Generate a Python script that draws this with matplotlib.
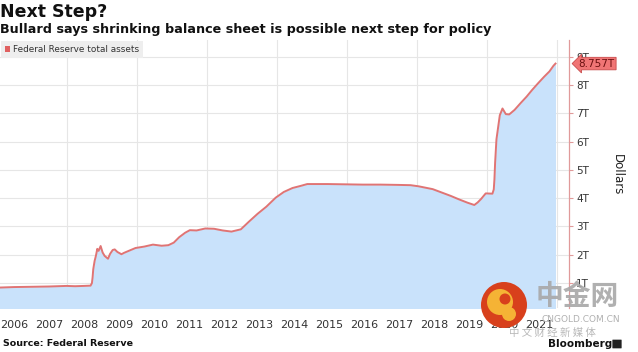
import matplotlib
matplotlib.use("Agg")
import matplotlib.pyplot as plt
import matplotlib.dates as mdates
from matplotlib.patches import Patch, Ellipse, FancyBboxPatch
import pandas as pd
import datetime as dt

plt.rcParams['font.family'] = ['DejaVu Sans', 'Noto Sans CJK SC']

dates = ["2006-01-04", "2006-06-28", "2007-01-03", "2007-06-27", "2007-12-26",
         "2008-03-26", "2008-06-25", "2008-09-03", "2008-09-17", "2008-09-24",
         "2008-10-01", "2008-10-15", "2008-10-29", "2008-11-12", "2008-11-26",
         "2008-12-17", "2009-01-07", "2009-01-28", "2009-03-04", "2009-03-25",
         "2009-04-22", "2009-05-13", "2009-06-10", "2009-07-22", "2009-08-19",
         "2009-10-07", "2009-12-16", "2010-03-17", "2010-06-16", "2010-09-15",
         "2010-11-24", "2011-01-19", "2011-03-16", "2011-05-18", "2011-07-06",
         "2011-09-14", "2011-12-14", "2012-03-14", "2012-06-13", "2012-09-12",
         "2012-12-19", "2013-03-13", "2013-06-12", "2013-09-11", "2013-12-18",
         "2014-03-12", "2014-06-11", "2014-09-10", "2014-11-12", "2015-06-10",
         "2015-12-16", "2016-06-15", "2016-12-14", "2017-06-14", "2017-10-25",
         "2018-01-17", "2018-06-13", "2018-12-19", "2019-03-13", "2019-06-12",
         "2019-08-21", "2019-09-25", "2019-10-30", "2019-12-18", "2020-02-26",
         "2020-03-11", "2020-03-18", "2020-03-25", "2020-04-08", "2020-05-13",
         "2020-06-10", "2020-07-15", "2020-08-19", "2020-10-14", "2020-12-16",
         "2021-02-17", "2021-04-14", "2021-06-16", "2021-08-18", "2021-10-13",
         "2021-11-24", "2021-12-15"]
assets = [0.84, 0.86, 0.87, 0.88, 0.90,
          0.89, 0.90, 0.91, 1.00, 1.20,
          1.49, 1.78, 1.97, 2.21, 2.14,
          2.31, 2.08, 1.96, 1.86, 2.03,
          2.17, 2.19, 2.10, 2.02, 2.07,
          2.14, 2.24, 2.29, 2.36, 2.32,
          2.34, 2.43, 2.62, 2.78, 2.87,
          2.86, 2.93, 2.92, 2.86, 2.82,
          2.90, 3.17, 3.45, 3.70, 4.02,
          4.22, 4.36, 4.44, 4.50, 4.50,
          4.49, 4.48, 4.48, 4.47, 4.46,
          4.42, 4.32, 4.08, 3.96, 3.84,
          3.76, 3.85, 3.97, 4.17, 4.16,
          4.31, 4.67, 5.25, 6.08, 6.93,
          7.17, 6.97, 6.96, 7.12, 7.36,
          7.59, 7.82, 8.06, 8.29, 8.48,
          8.68, 8.757]
year_labels = [str(y) for y in range(2006, 2022)]
ytick_values = [1, 2, 3, 4, 5, 6, 7, 8, 9]
ytick_labels = ["1T", "2T", "3T", "4T", "5T", "6T", "7T", "8T", "9T"]
last_label = "8.757T"

x = pd.to_datetime(dates)

W, H = 638, 352
fig = plt.figure(figsize=(W / 100, H / 100), dpi=100)
ax = fig.add_axes([0, 1 - 308 / H, 569 / W, (308 - 40) / H])

line_c = '#e07474'
fill_c = '#c9e2fb'
ax.fill_between(x, 0, assets, color=fill_c, lw=0, zorder=1)
ax.plot(x, assets, color=line_c, lw=1.4, zorder=3)

ax.set_xlim(dt.date(2006, 2, 1), dt.date(2022, 5, 5))
ax.set_ylim(0.12, 9.59)

# gridlines at even years, labels at mid-year
ax.xaxis.set_major_locator(mdates.YearLocator(2))
ax.xaxis.set_major_formatter(plt.NullFormatter())
mids = [mdates.date2num(dt.date(int(y), 7, 2)) for y in year_labels]
ax.set_xticks(mids, minor=True)
ax.set_xticklabels(year_labels, minor=True)
ax.tick_params(axis='x', which='both', length=0)
ax.tick_params(axis='x', which='minor', labelsize=8, colors='#333333', pad=9)

ax.yaxis.tick_right()
ax.set_yticks(ytick_values)
ax.set_yticklabels(ytick_labels)
ax.tick_params(axis='y', length=3, width=0.8, color='#e09a9a', labelsize=7.5,
               labelcolor='#333333', pad=2)
ax.grid(True, which='major', color='#e6e6e6', lw=0.8, zorder=0)
ax.set_axisbelow(True)

for s in ['top', 'left', 'bottom']:
    ax.spines[s].set_visible(False)
ax.spines['right'].set_color('#e09a9a')
ax.spines['right'].set_linewidth(0.9)

# last value label
ax.annotate(last_label, xy=(1.0, assets[-1]), xycoords=('axes fraction', 'data'),
            xytext=(7, 0), textcoords='offset points', ha='left', va='center',
            fontsize=7.5, color='#6b1010', annotation_clip=False,
            bbox=dict(boxstyle='larrow,pad=0.12', fc='#f07575', ec='#c94a4a', lw=0.6),
            zorder=10)

# legend
leg = ax.legend(handles=[Patch(facecolor='#e06060', edgecolor='none',
                               label='Federal Reserve total assets')],
                loc='upper left', bbox_to_anchor=(0.0, 1.0), fontsize=6.4,
                frameon=True, facecolor='#eeeeee', edgecolor='none', framealpha=1,
                handlelength=0.6, handleheight=0.6, handletextpad=0.3,
                borderpad=0.45, borderaxespad=0.1, fancybox=False)
for t in leg.get_texts():
    t.set_color('#333333')

# "Dollars" axis title
fig.text(617 / W, 1 - 175 / H, 'Dollars', rotation=270, ha='center', va='center',
         fontsize=8.5, color='#222222')

# titles
fig.text(0 / W, 1 - 12 / H, 'Next Step?', fontsize=12.5, fontweight='bold',
         ha='left', va='center', color='#111111')
fig.text(0 / W, 1 - 29 / H, 'Bullard says shrinking balance sheet is possible next step for policy',
         fontsize=9.2, fontweight='bold', ha='left', va='center', color='#111111')
fig.text(3 / W, 1 - 344 / H, 'Source: Federal Reserve', fontsize=6.8, fontweight='bold',
         ha='left', va='center', color='#111111')

# watermark
def fig_ellipse(cx, cy, d, color, z):
    e = Ellipse((cx / W, 1 - cy / H), d / W, d / H, transform=fig.transFigure,
                facecolor=color, edgecolor='none', zorder=z)
    fig.add_artist(e)

fig_ellipse(504, 305, 46, '#d8401c', 20)
fig_ellipse(500, 302, 26, '#f5b335', 21)
fig_ellipse(505, 299, 11, '#d8401c', 22)
fig_ellipse(509, 314, 14, '#f5b335', 21)
fig.text(577 / W, 1 - 297 / H, '中金网', fontsize=20, fontweight='bold',
         family=['Noto Sans CJK SC'], color='#a8a8a8', alpha=0.9,
         ha='center', va='center', zorder=20)
fig.text(581 / W, 1 - 320 / H, 'CNGOLD.COM.CN', fontsize=6.5, color='#b0b0b0',
         ha='center', va='center', zorder=20)
fig.text(552 / W, 1 - 333 / H, '中 文 财 经 新 媒 体', fontsize=7.5,
         family=['Noto Sans CJK SC'], color='#b8b8b8', ha='center', va='center',
         zorder=20)

# Bloomberg logo
fig.text(580 / W, 1 - 344 / H, 'Bloomberg', fontsize=7.5, fontweight='bold',
         ha='center', va='center', color='#111111', zorder=25)
fig.add_artist(FancyBboxPatch((613 / W, 1 - 348 / H), 8 / W, 8 / H,
                              boxstyle='round,pad=0.001',
                              transform=fig.transFigure,
                              facecolor='#222222', edgecolor='none', zorder=25))

fig.savefig('out.png', dpi=100)
